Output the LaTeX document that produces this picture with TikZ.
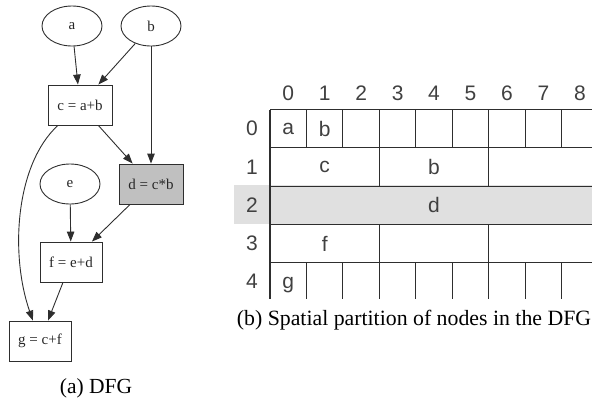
\documentclass[tikz,border=0pt]{standalone}
\usepackage{fontspec}
\setmainfont{Liberation Serif}
\newfontfamily\gridfont{Liberation Sans}
\usetikzlibrary{arrows.meta,shapes.geometric}
\definecolor{linegray}{HTML}{2E2E2E}
\definecolor{dfill}{HTML}{C0C0C0}
\definecolor{rowshade}{HTML}{E0E0E0}
\definecolor{gridtext}{HTML}{404040}
\tikzset{
  dfgnode/.style={draw=linegray, line width=0.9pt, inner sep=0pt, minimum height=40pt,
    font=\fontsize{15}{18}\selectfont, text=black!85},
  opnode/.style={dfgnode, ellipse, minimum width=60pt},
  boxnode/.style={dfgnode, rectangle, minimum width=63pt},
  edge/.style={draw=linegray, line width=0.9pt, -{Triangle[length=10pt,width=7.5pt]}},
  gridline/.style={draw=linegray, line width=1.1pt},
  gridlbl/.style={font=\gridfont\fontsize{21}{24}\selectfont, text=gridtext, inner sep=0pt},
  caption/.style={font=\fontsize{21.5}{25}\selectfont, inner sep=0pt}
}
\begin{document}
\begin{tikzpicture}[x=1pt,y=-1pt]
\useasboundingbox (0,0) rectangle (592,400);
% ---------------- DFG ----------------
\node[opnode] (a) at (72,26) {a};
\node[opnode] (b) at (151,26) {b};
\node[boxnode, minimum width=64pt] (c) at (80,105) {c = a+b};
\node[boxnode, minimum width=64pt, fill=dfill] (d) at (151,184) {d = c*b};
\node[opnode] (e) at (70,184) {e};
\node[boxnode, minimum width=62pt] (f) at (71,262) {f = e+d};
\node[boxnode, minimum width=62pt] (g) at (40,341) {g = c+f};
\draw[edge] (a) -- (c);
\draw[edge] (b) -- (c);
\draw[edge] (b) -- (d);
\draw[edge] (c) -- (d);
\draw[edge] (c) .. controls (15,165) and (10,255) .. (g);
\draw[edge] (e) -- (f);
\draw[edge] (d) -- (f);
\draw[edge] (f) -- (g);
\node[caption] (capa) at (96,388) {(a) DFG};
% ---------------- Grid ----------------
\def\gx{270}\def\cw{36.46}
\def\ra{109.5}\def\rb{147.8}\def\rc{186.1}\def\rd{224.4}\def\re{262.7}\def\rf{298.5}
\fill[rowshade] (234,185) rectangle (592,223.5);
% horizontal lines
\foreach \yy in {\ra,\rb,\rc,\rd,\re}{
  \draw[gridline] (\gx,\yy) -- (592,\yy);
}
% vertical lines row 0 and row 4
\foreach \k in {0,...,8}{
  \draw[gridline] (\gx+\k*\cw,\ra) -- (\gx+\k*\cw,\rb);
  \draw[gridline] (\gx+\k*\cw,\re) -- (\gx+\k*\cw,\rf);
}
% rows 1 and 3
\foreach \k in {0,3,6}{
  \draw[gridline] (\gx+\k*\cw,\rb) -- (\gx+\k*\cw,\rc);
  \draw[gridline] (\gx+\k*\cw,\rd) -- (\gx+\k*\cw,\re);
}
\draw[gridline] (\gx,\rc) -- (\gx,\rd);
% column headers
\foreach \k in {0,...,8}{
  \node[gridlbl] (col\k) at (\gx+\k*\cw+0.5*\cw,93) {\k};
}
% row labels
\node[gridlbl] (row0) at (252,128.6) {0};
\node[gridlbl] (row1) at (252,167) {1};
\node[gridlbl] (row2) at (252,205.2) {2};
\node[gridlbl] (row3) at (252,243.5) {3};
\node[gridlbl] (row4) at (252,281) {4};
% cell contents
\node[gridlbl] (ga) at (\gx+0.5*\cw,128.6) {a};
\node[gridlbl] (gb) at (\gx+1.5*\cw,128.6) {b};
\node[gridlbl] (gc) at (\gx+1.5*\cw,167) {c};
\node[gridlbl] (gb2) at (\gx+4.5*\cw,167) {b};
\node[gridlbl] (gd) at (\gx+4.5*\cw,205.2) {d};
\node[gridlbl] (gf) at (\gx+1.5*\cw,243.5) {f};
\node[gridlbl, anchor=base] (gg) at (\gx+0.5*\cw,288) {g};
\node[caption, font=\fontsize{21.8}{25}\selectfont] (capb) at (414,320) {(b) Spatial partition of nodes in the DFG};
\end{tikzpicture}
\end{document}
